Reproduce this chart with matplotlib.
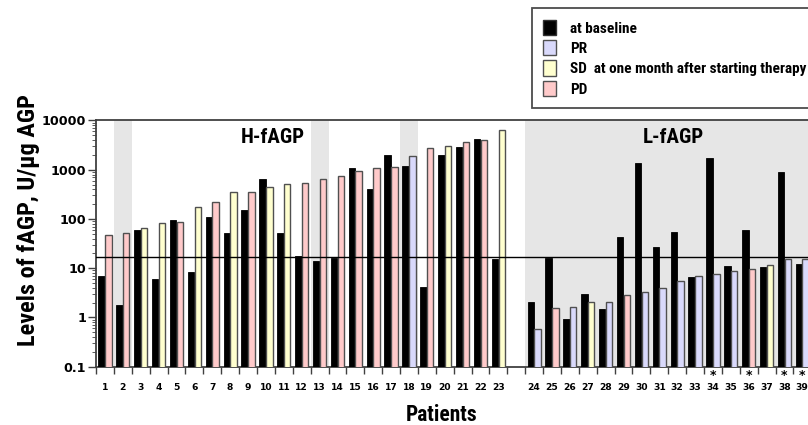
import matplotlib
matplotlib.use("Agg")
import matplotlib.pyplot as plt
from matplotlib.patches import Patch
from matplotlib.transforms import blended_transform_factory
from matplotlib.ticker import FixedLocator, NullFormatter, LogLocator

# ---------------- data ----------------
patients = ["1", "2", "3", "4", "5", "6", "7", "8", "9", "10", "11", "12", "13",
            "14", "15", "16", "17", "18", "19", "20", "21", "22", "23",
            "24", "25", "26", "27", "28", "29", "30", "31", "32", "33", "34",
            "35", "36", "37", "38", "39"]
baseline = [6.8, 1.78, 61, 6.1, 95, 8.4, 108, 53, 150, 660, 51, 17.4, 14.1,
            15.8, 1060, 400, 1960, 1170, 4.1, 1960, 2940, 4150, 15.5,
            2.05, 15.9, 0.95, 3.0, 1.48, 43, 1390, 26.5, 54, 6.5, 1700,
            11.2, 61, 10.4, 885, 11.9]
one_month = [48, 52, 65, 83, 88, 175, 217, 347, 357, 452, 520, 537, 638,
             745, 941, 1083, 1120, 1930, 2760, 3080, 3660, 4020, 6310,
             0.57, 1.52, 1.62, 2.02, 2.05, 2.8, 3.22, 3.88, 5.55, 7.0, 7.5,
             8.7, 9.7, 11.4, 15.3, 15.5]
response = ["PD", "PD", "SD", "SD", "PD", "SD", "PD", "SD", "PD", "SD", "SD", "PD", "PD",
            "PD", "PD", "PD", "PD", "PR", "PD", "SD", "PD", "PD", "SD",
            "PR", "PD", "PR", "SD", "PR", "PD", "PR", "PR", "PR", "PR", "PR",
            "PR", "PD", "SD", "PR", "PR"]
group = ["H"] * 23 + ["L"] * 16
shaded_patients = ["2", "13", "18"]
starred_patients = ["34", "36", "38", "39"]
cutoff = 17

legend_labels = ["at baseline", "PR", "SD  at one month after starting therapy", "PD"]

# ---------------- styling ----------------
colors = {"base": "#000000", "PR": "#d9d9fb", "SD": "#ffffcf", "PD": "#ffcaca"}
WORD = ["Roboto Condensed", "Liberation Sans", "DejaVu Sans"]
NUM = ["DejaVu Sans"]

W, H = 808, 425
fig = plt.figure(figsize=(W / 100, H / 100), dpi=100)

# x positions: leave one empty slot between the two groups
xpos = []
for i, g in enumerate(group):
    xpos.append(i if g == "H" else i + 1)

x0_px, slot_px = 105.0, 17.88
left_px = x0_px - 0.5 * slot_px
right_px = x0_px + 39.5 * slot_px
top_px, bot_px = 120.5, 366.7
ax = fig.add_axes([left_px / W, 1 - bot_px / H, (right_px - left_px) / W, (bot_px - top_px) / H])
ax.set_yscale("log")
ax.set_xlim(-0.5, 39.5)
ax.set_ylim(0.1, 10000)

# shading
for p in shaded_patients:
    xi = xpos[patients.index(p)]
    ax.axvspan(xi - 0.5, xi + 0.5, color="#e6e6e6", lw=0, zorder=0)
first_L = xpos[group.index("L")]
ax.axvspan(first_L - 0.5, 41, color="#e6e6e6", lw=0, zorder=0)

bw = 0.36
off = 0.19
ax.bar([x - off for x in xpos], baseline, width=bw, bottom=1e-3, color=colors["base"],
       edgecolor="black", linewidth=0.6, zorder=3)
ax.bar([x + off for x in xpos], one_month, width=bw, bottom=1e-3,
       color=[colors[r] for r in response], edgecolor="#505050", linewidth=1.0, zorder=3)

ax.axhline(cutoff, color="black", lw=1.0, zorder=4)

# spines
for s in ["left", "top", "bottom", "right"]:
    ax.spines[s].set_color("#404040")
    ax.spines[s].set_linewidth(1.3)

# y ticks
ax.yaxis.set_major_locator(FixedLocator([0.1, 1, 10, 100, 1000, 10000]))
ax.set_yticklabels(["0.1", "1", "10", "100", "1000", "10000"],
                   fontfamily=NUM, fontweight="bold", fontsize=9.2)
ax.yaxis.set_minor_locator(LogLocator(base=10, subs=range(2, 10)))
ax.yaxis.set_minor_formatter(NullFormatter())
ax.tick_params(axis="y", which="major", length=6, width=1, pad=1, color="#404040")
ax.tick_params(axis="y", which="minor", length=3, width=0.6, color="#404040")

# x ticks: labels at patient centres, tick marks at slot boundaries
ax.set_xticks(xpos)
ax.set_xticklabels(patients, fontfamily=NUM, fontweight="bold", fontsize=6.6)
ax.set_xticks([k + 0.5 for k in range(-1, 40)], minor=True)
ax.tick_params(axis="x", which="major", length=0, pad=12)
ax.tick_params(axis="x", which="minor", length=4.8, width=1, color="#404040")

# stars
tr = blended_transform_factory(ax.transData, ax.transAxes)
for p in starred_patients:
    ax.text(xpos[patients.index(p)], -0.035, "*", transform=tr, ha="center", va="center",
            fontsize=9, fontweight="bold", fontfamily=NUM)

# group labels
ax.text(0.2476, 0.929, "H-fAGP", transform=ax.transAxes, ha="center", va="center",
        fontsize=15, fontweight="bold", fontfamily=WORD)
ax.text(0.807, 0.929, "L-fAGP", transform=ax.transAxes, ha="center", va="center",
        fontsize=15, fontweight="bold", fontfamily=WORD)

ax.set_ylabel("Levels of fAGP, U/μg AGP", fontsize=17.5, fontweight="bold", fontfamily=WORD)
ax.yaxis.set_label_coords(-0.079, 0.596)
ax.set_xlabel("Patients", fontsize=15.5, fontweight="bold", fontfamily=WORD)
ax.xaxis.set_label_coords(0.4825, -0.15)

# legend
handles = [Patch(facecolor=colors["base"], edgecolor="#303030", lw=1),
           Patch(facecolor=colors["PR"], edgecolor="#505050", lw=1),
           Patch(facecolor=colors["SD"], edgecolor="#505050", lw=1),
           Patch(facecolor=colors["PD"], edgecolor="#505050", lw=1)]
leg = fig.legend(handles, legend_labels, loc="upper left",
                 bbox_to_anchor=(531.7 / W, 1 - 8.3 / H), frameon=True, fancybox=False,
                 edgecolor="#202020", prop={"family": WORD, "weight": "bold", "size": 11},
                 handlelength=0.85, handleheight=1.15, handletextpad=0.9,
                 labelspacing=0.3, borderpad=0.75, borderaxespad=0)
leg.get_frame().set_linewidth(1.3)

fig.savefig("out.png", dpi=100)
